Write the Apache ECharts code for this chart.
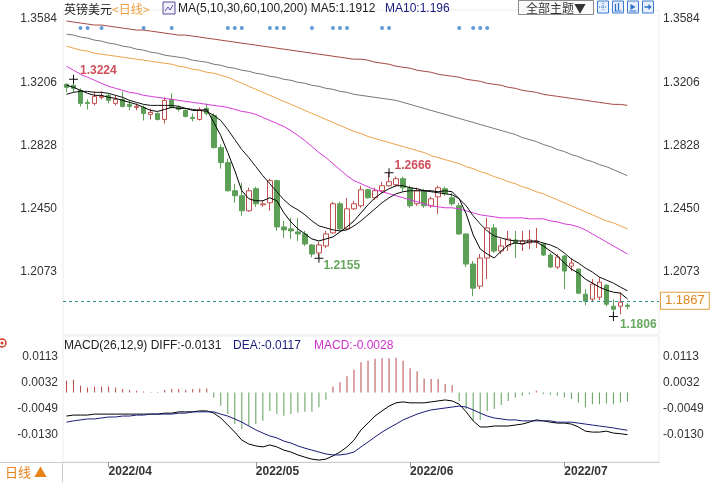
<!DOCTYPE html>
<html><head><meta charset="utf-8">
<script src="https://cdn.jsdelivr.net/npm/echarts@6/dist/echarts.min.js"></script>
<style>html,body{margin:0;padding:0;background:#fff}#c{width:711px;height:482px}</style>
</head><body><div id="c"></div>
<script>
// ---------- data ----------
const tradingDays = 81, futureSlots = 4;
const categories = (function () {
  const out = []; const d = new Date(Date.UTC(2022, 2, 24));
  while (out.length < tradingDays + futureSlots) {
    const w = d.getUTCDay();
    if (w !== 0 && w !== 6) out.push(d.getUTCFullYear() + '/' + String(d.getUTCMonth() + 1).padStart(2, '0') + '/' + String(d.getUTCDate()).padStart(2, '0'));
    d.setUTCDate(d.getUTCDate() + 1);
  }
  return out;
})();
const opens = [1.3194,1.3188,1.3158,1.3086,1.3080,1.3116,1.3128,1.3080,1.3104,1.3074,
1.3056,1.3056,1.3014,1.3020,1.2984,1.3104,1.3056,1.3038,1.2996,1.2984,
1.3050,1.3008,1.2816,1.2726,1.2558,1.2528,1.2438,1.2570,1.2474,1.2486,
1.2618,1.2342,1.2330,1.2312,1.2300,1.2234,1.2186,1.2228,1.2306,1.2480,
1.2330,1.2450,1.2468,1.2564,1.2516,1.2558,1.2588,1.2594,1.2630,1.2576,
1.2480,1.2558,1.2468,1.2522,1.2570,1.2516,1.2468,1.2300,1.2120,1.1988,
1.2156,1.2336,1.2198,1.2228,1.2264,1.2240,1.2246,1.2252,1.2240,1.2174,
1.2102,1.2168,1.2108,1.2090,1.1940,1.1910,1.1922,1.1994,1.1868,1.1868,
1.1874];
const closes = [1.3176,1.3170,1.3080,1.3080,1.3122,1.3122,1.3098,1.3104,1.3062,1.3062,
1.3062,1.3020,1.3026,1.2984,1.3098,1.3056,1.3044,1.3002,1.2990,1.3044,
1.3020,1.2816,1.2726,1.2558,1.2528,1.2438,1.2558,1.2480,1.2480,1.2618,
1.2342,1.2324,1.2318,1.2300,1.2240,1.2180,1.2234,1.2300,1.2480,1.2330,
1.2450,1.2480,1.2564,1.2516,1.2558,1.2588,1.2612,1.2630,1.2576,1.2468,
1.2558,1.2468,1.2510,1.2576,1.2540,1.2480,1.2300,1.2120,1.1976,1.2156,
1.2336,1.2198,1.2228,1.2270,1.2246,1.2258,1.2264,1.2258,1.2174,1.2102,
1.2162,1.2078,1.2126,1.1946,1.1898,1.2000,1.2012,1.1880,1.1850,1.1892,
1.1867];
const lows = [1.3146,1.3146,1.3062,1.3044,1.3068,1.3104,1.3080,1.3068,1.3056,1.3038,
1.3038,1.2978,1.2984,1.2978,1.2960,1.3050,1.3032,1.2996,1.2972,1.2978,
1.3008,1.2810,1.2690,1.2552,1.2486,1.2408,1.2432,1.2462,1.2462,1.2438,
1.2318,1.2276,1.2270,1.2258,1.2228,1.2160,1.2155,1.2216,1.2300,1.2318,
1.2324,1.2444,1.2456,1.2510,1.2504,1.2546,1.2582,1.2582,1.2552,1.2456,
1.2468,1.2456,1.2456,1.2420,1.2528,1.2468,1.2294,1.2102,1.1928,1.1970,
1.2030,1.2186,1.2180,1.2198,1.2156,1.2198,1.2210,1.2216,1.2168,1.2096,
1.2090,1.1970,1.2078,1.1940,1.1874,1.1898,1.1904,1.1868,1.1806,1.1820,
1.1850];
const highs = [1.3200,1.3224,1.3170,1.3104,1.3152,1.3152,1.3140,1.3128,1.3152,1.3098,
1.3080,1.3068,1.3050,1.3026,1.3116,1.3140,1.3068,1.3050,1.3020,1.3056,
1.3080,1.3020,1.2834,1.2750,1.2600,1.2606,1.2576,1.2582,1.2498,1.2630,
1.2624,1.2378,1.2396,1.2396,1.2318,1.2240,1.2252,1.2318,1.2492,1.2492,
1.2516,1.2498,1.2588,1.2570,1.2576,1.2612,1.2666,1.2642,1.2642,1.2588,
1.2576,1.2570,1.2522,1.2588,1.2582,1.2546,1.2486,1.2300,1.2138,1.2180,
1.2396,1.2360,1.2270,1.2318,1.2318,1.2318,1.2324,1.2336,1.2246,1.2186,
1.2180,1.2174,1.2156,1.2090,1.1970,1.2030,1.2042,1.2000,1.1910,1.1952,
1.1886];
const ma5 = [1.3188,1.3176,1.3158,1.3140,1.3128,1.3128,1.3116,1.3110,1.3098,1.3086,
1.3074,1.3056,1.3038,1.3032,1.3044,1.3056,1.3050,1.3050,1.3038,1.3038,
1.3044,1.2966,1.2888,1.2786,1.2678,1.2558,1.2510,1.2498,1.2498,1.2516,
1.2498,1.2426,1.2372,1.2330,1.2300,1.2270,1.2258,1.2270,1.2282,1.2312,
1.2342,1.2378,1.2426,1.2474,1.2516,1.2546,1.2570,1.2588,1.2588,1.2576,
1.2570,1.2558,1.2558,1.2552,1.2558,1.2552,1.2510,1.2420,1.2294,1.2210,
1.2180,1.2156,1.2198,1.2234,1.2246,1.2240,1.2252,1.2252,1.2228,1.2198,
1.2168,1.2126,1.2090,1.2066,1.2030,1.2006,1.1982,1.1964,1.1952,1.1946,
1.1912];
const ma10 = [1.3134,1.3146,1.3152,1.3152,1.3146,1.3146,1.3140,1.3128,1.3116,1.3098,
1.3086,1.3074,1.3068,1.3068,1.3068,1.3068,1.3062,1.3050,1.3044,1.3038,
1.3032,1.3008,1.2978,1.2924,1.2864,1.2804,1.2756,1.2702,1.2648,1.2600,
1.2552,1.2504,1.2468,1.2444,1.2414,1.2378,1.2348,1.2336,1.2324,1.2318,
1.2324,1.2348,1.2378,1.2414,1.2450,1.2486,1.2516,1.2540,1.2552,1.2558,
1.2558,1.2558,1.2552,1.2546,1.2540,1.2534,1.2510,1.2468,1.2408,1.2360,
1.2318,1.2288,1.2276,1.2264,1.2258,1.2258,1.2258,1.2258,1.2246,1.2234,
1.2216,1.2186,1.2150,1.2126,1.2096,1.2072,1.2042,1.2024,1.2006,1.1982,
1.1960];
const ma30 = [1.3302,1.3278,1.3254,1.3236,1.3218,1.3200,1.3182,1.3170,1.3158,1.3146,
1.3140,1.3128,1.3122,1.3116,1.3110,1.3104,1.3098,1.3092,1.3086,1.3080,
1.3074,1.3068,1.3062,1.3056,1.3044,1.3032,1.3026,1.3014,1.2996,1.2978,
1.2960,1.2942,1.2918,1.2888,1.2858,1.2822,1.2786,1.2756,1.2720,1.2684,
1.2648,1.2618,1.2600,1.2582,1.2564,1.2552,1.2540,1.2528,1.2516,1.2504,
1.2492,1.2480,1.2468,1.2462,1.2456,1.2456,1.2450,1.2438,1.2426,1.2414,
1.2408,1.2402,1.2396,1.2396,1.2396,1.2396,1.2390,1.2390,1.2390,1.2378,
1.2372,1.2360,1.2354,1.2342,1.2324,1.2300,1.2276,1.2252,1.2228,1.2204,
1.2180];
const ma60 = [1.3422,1.3410,1.3398,1.3392,1.3380,1.3374,1.3368,1.3362,1.3356,1.3350,
1.3344,1.3338,1.3332,1.3326,1.3320,1.3314,1.3302,1.3296,1.3284,1.3278,
1.3266,1.3260,1.3248,1.3236,1.3218,1.3200,1.3182,1.3164,1.3146,1.3128,
1.3110,1.3092,1.3074,1.3056,1.3038,1.3020,1.3002,1.2984,1.2966,1.2948,
1.2930,1.2912,1.2900,1.2882,1.2870,1.2858,1.2846,1.2834,1.2822,1.2810,
1.2798,1.2786,1.2768,1.2756,1.2744,1.2732,1.2720,1.2702,1.2690,1.2672,
1.2660,1.2642,1.2630,1.2612,1.2600,1.2582,1.2570,1.2552,1.2540,1.2522,
1.2504,1.2486,1.2468,1.2450,1.2432,1.2414,1.2396,1.2378,1.2366,1.2348,
1.2330];
const ma100 = [1.3494,1.3488,1.3476,1.3470,1.3458,1.3452,1.3440,1.3434,1.3422,1.3416,
1.3404,1.3398,1.3386,1.3380,1.3368,1.3362,1.3356,1.3350,1.3338,1.3332,
1.3326,1.3314,1.3308,1.3296,1.3290,1.3278,1.3272,1.3260,1.3254,1.3242,
1.3236,1.3224,1.3218,1.3206,1.3200,1.3188,1.3182,1.3170,1.3164,1.3152,
1.3146,1.3134,1.3128,1.3122,1.3116,1.3110,1.3104,1.3098,1.3086,1.3074,
1.3062,1.3050,1.3038,1.3026,1.3014,1.3002,1.2990,1.2978,1.2966,1.2954,
1.2942,1.2930,1.2918,1.2906,1.2894,1.2876,1.2864,1.2852,1.2834,1.2822,
1.2804,1.2792,1.2774,1.2762,1.2744,1.2732,1.2714,1.2702,1.2684,1.2666,
1.2648];
const ma200 = [1.3572,1.3566,1.3560,1.3554,1.3548,1.3548,1.3542,1.3536,1.3530,1.3524,
1.3518,1.3518,1.3512,1.3506,1.3500,1.3494,1.3488,1.3488,1.3482,1.3476,
1.3470,1.3464,1.3458,1.3452,1.3446,1.3440,1.3434,1.3428,1.3422,1.3416,
1.3410,1.3404,1.3398,1.3392,1.3386,1.3380,1.3374,1.3368,1.3362,1.3356,
1.3350,1.3344,1.3344,1.3338,1.3326,1.3320,1.3314,1.3302,1.3296,1.3290,
1.3278,1.3272,1.3266,1.3254,1.3248,1.3242,1.3236,1.3224,1.3218,1.3212,
1.3200,1.3194,1.3188,1.3176,1.3170,1.3158,1.3152,1.3146,1.3134,1.3128,
1.3122,1.3116,1.3110,1.3104,1.3098,1.3092,1.3086,1.3080,1.3074,1.3074,
1.3068];
const diff = [-0.0073,-0.0070,-0.0070,-0.0070,-0.0067,-0.0067,-0.0067,-0.0067,-0.0067,-0.0067,
-0.0067,-0.0067,-0.0067,-0.0067,-0.0064,-0.0064,-0.0060,-0.0060,-0.0060,-0.0057,
-0.0057,-0.0064,-0.0079,-0.0101,-0.0123,-0.0148,-0.0160,-0.0166,-0.0169,-0.0163,
-0.0169,-0.0179,-0.0185,-0.0194,-0.0201,-0.0207,-0.0210,-0.0207,-0.0197,-0.0185,
-0.0169,-0.0148,-0.0116,-0.0095,-0.0073,-0.0057,-0.0042,-0.0032,-0.0029,-0.0032,
-0.0032,-0.0032,-0.0029,-0.0026,-0.0023,-0.0026,-0.0036,-0.0060,-0.0088,-0.0107,
-0.0107,-0.0104,-0.0104,-0.0104,-0.0101,-0.0098,-0.0092,-0.0085,-0.0088,-0.0092,
-0.0095,-0.0095,-0.0098,-0.0107,-0.0120,-0.0123,-0.0123,-0.0120,-0.0126,-0.0128,
-0.0131];
const dea = [-0.0092,-0.0088,-0.0085,-0.0082,-0.0082,-0.0079,-0.0076,-0.0076,-0.0073,-0.0073,
-0.0070,-0.0070,-0.0067,-0.0067,-0.0067,-0.0067,-0.0064,-0.0064,-0.0060,-0.0060,
-0.0060,-0.0060,-0.0067,-0.0073,-0.0082,-0.0092,-0.0104,-0.0116,-0.0126,-0.0135,
-0.0141,-0.0151,-0.0157,-0.0166,-0.0173,-0.0179,-0.0185,-0.0191,-0.0194,-0.0194,
-0.0191,-0.0185,-0.0169,-0.0154,-0.0138,-0.0123,-0.0110,-0.0098,-0.0085,-0.0076,
-0.0067,-0.0060,-0.0054,-0.0051,-0.0048,-0.0045,-0.0042,-0.0045,-0.0054,-0.0064,
-0.0073,-0.0079,-0.0082,-0.0085,-0.0085,-0.0088,-0.0088,-0.0088,-0.0088,-0.0088,
-0.0092,-0.0092,-0.0092,-0.0095,-0.0098,-0.0101,-0.0104,-0.0107,-0.0110,-0.0114,
-0.0117];
const macd = [0.0037,0.0040,0.0021,0.0016,0.0019,0.0019,0.0019,0.0016,0.0011,0.0009,
0.0006,0.0003,0.0002,0.0002,0.0008,0.0011,0.0011,0.0009,0.0011,0.0013,
0.0013,-0.0015,-0.0041,-0.0067,-0.0098,-0.0114,-0.0104,-0.0098,-0.0088,-0.0057,
-0.0067,-0.0072,-0.0067,-0.0062,-0.0060,-0.0060,-0.0046,-0.0022,0.0019,0.0032,
0.0051,0.0071,0.0094,0.0099,0.0105,0.0107,0.0107,0.0108,0.0099,0.0076,
0.0066,0.0044,0.0042,0.0042,0.0027,0.0023,-0.0026,-0.0051,-0.0088,-0.0085,
-0.0057,-0.0051,-0.0039,-0.0026,-0.0015,-0.0010,-0.0005,0.0006,-0.0005,-0.0007,
-0.0010,-0.0015,-0.0020,-0.0031,-0.0046,-0.0036,-0.0036,-0.0034,-0.0036,-0.0031,
-0.0028];
const priceTicks = [1.2073, 1.2450, 1.2828, 1.3206, 1.3584];
const macdTicks = [-0.0130, -0.0049, 0.0032, 0.0113];
const eventIdx = [2,3,5,11,15,23,24,25,29,30,31,35,38,39,40,45,46,56,58,59,60];
const extremes = [{i:1,k:'high'},{i:46,k:'high'},{i:36,k:'low'},{i:78,k:'low'}];

// ---------- styling / layout ----------
const F = "'Liberation Sans', Arial, 'Noto Sans CJK SC', sans-serif";
const FC = "'Noto Sans CJK SC', 'Liberation Sans', sans-serif";
const UP = '#c0504d', DOWN = '#5e9f58';
const lastClose = closes[closes.length - 1];
const isMonthStart = (idx) => idx > 0 && idx < tradingDays && categories[idx].slice(0, 7) !== categories[idx - 1].slice(0, 7);

const candleData = opens.map((o, i) => [o, closes[i], lows[i], highs[i]]);
const extremeLabel = {
  1: {offset: [-3, -9], color: '#cf4f5c'},
  46: {offset: [-4, -7], color: '#cf4f5c'},
  36: {offset: [-5, 8], color: '#68a760'},
  78: {offset: [-3, 8], color: '#68a760'}
};
const markPts = extremes.map(e => {
  const v = e.k === 'high' ? highs[e.i] : lows[e.i];
  const s = extremeLabel[e.i];
  return {coord: [categories[e.i], v], value: v,
    label: {show: true, position: 'right', distance: 5, offset: s.offset, color: s.color,
      fontWeight: 'bold', fontSize: 12, fontFamily: F, formatter: p => p.value.toFixed(4)}};
});

function maSeries(name, data, color) {
  return {name, type: 'line', xAxisIndex: 0, yAxisIndex: 0, data, symbol: 'none', smooth: false,
    lineStyle: {color, width: 1}, z: 3, silent: true};
}
const priceAxis = (pos) => ({
  type: 'value', gridIndex: 0, position: pos, min: 1.1696, max: 1.3638,
  axisLine: {show: false}, axisTick: {show: false},
  axisLabel: {customValues: priceTicks, formatter: v => v.toFixed(4), color: '#333', fontSize: 12, fontFamily: F,
    margin: pos === 'left' ? 6 : 4},
  splitLine: {show: false}
});
const macdAxis = (pos) => ({
  type: 'value', gridIndex: 1, position: pos, min: -0.0216, max: 0.0176,
  axisLine: {show: false}, axisTick: {show: false},
  axisLabel: {customValues: macdTicks, formatter: v => v.toFixed(4), color: '#333', fontSize: 12, fontFamily: F,
    margin: pos === 'left' ? 5 : 4},
  splitLine: {show: false}
});

const iconBox = (x, children) => ({type: 'group', x: x, y: 1, children: [
  {type: 'rect', shape: {x: 0, y: 0, width: 11, height: 12}, style: {fill: '#e6effb', stroke: '#3d7bd0', lineWidth: 1}}
].concat(children)});
const blue = '#2f6fc8';

const chart = echarts.init(document.getElementById('c'), null, {renderer: 'canvas'});
chart.setOption({
  animation: false,
  backgroundColor: '#fff',
  grid: [
    {left: 63, right: 52, top: 10, bottom: 147, show: true, borderColor: '#ececec', borderWidth: 1},
    {left: 63, right: 52, top: 336, bottom: 20, show: true, borderColor: '#ececec', borderWidth: 1}
  ],
  xAxis: [
    {type: 'category', gridIndex: 0, data: categories, boundaryGap: true,
      axisLine: {show: false}, axisTick: {show: false}, axisLabel: {show: false}, splitLine: {show: false}},
    {type: 'category', gridIndex: 1, data: categories, boundaryGap: true,
      axisLine: {show: true, onZero: false, lineStyle: {color: '#cccccc'}},
      axisTick: {show: true, alignWithLabel: true, length: 5, interval: (i) => isMonthStart(i), lineStyle: {color: '#999'}},
      axisLabel: {show: true, interval: (i) => isMonthStart(i), formatter: v => v.slice(0, 7), align: 'left',
        margin: 4, color: '#333', fontWeight: 'bold', fontSize: 12, fontFamily: F}}
  ],
  yAxis: [
    priceAxis('left'),
    priceAxis('right'),
    {type: 'value', gridIndex: 0, min: 0, max: 1, show: false},
    macdAxis('left'),
    macdAxis('right')
  ],
  series: [
    {name: 'K', type: 'candlestick', xAxisIndex: 0, yAxisIndex: 0, data: candleData, barWidth: 5,
      itemStyle: {color: '#ffffff', color0: DOWN, borderColor: UP, borderColor0: DOWN, borderColorDoji: UP, borderWidth: 1},
      markPoint: {symbol: 'path://M0,4h9v1h-9zM4,0h1v9h-1z', symbolSize: 9, itemStyle: {color: '#111'},
        data: markPts, silent: true},
      markLine: {symbol: 'none', silent: true, data: [{yAxis: lastClose}],
        lineStyle: {type: [3, 3], color: '#2f9191', width: 1},
        label: {show: true, position: 'end', distance: 2, formatter: () => lastClose.toFixed(4),
          color: '#e0861c', borderColor: '#e0a040', borderWidth: 1, backgroundColor: '#fff',
          padding: [2, 4, 1, 4], fontSize: 13, fontFamily: F}}},
    maSeries('MA200', ma200, '#a64842'),
    maSeries('MA100', ma100, '#777777'),
    maSeries('MA60', ma60, '#f0a24a'),
    maSeries('MA30', ma30, '#d63bd6'),
    maSeries('MA10', ma10, '#111111'),
    maSeries('MA5', ma5, '#000000'),
    {name: 'events', type: 'scatter', xAxisIndex: 0, yAxisIndex: 2, symbolSize: 4, silent: true,
      itemStyle: {color: '#3a7fd0'}, data: eventIdx.map(i => [categories[i], 0.945])},
    {name: 'MACD', type: 'bar', xAxisIndex: 1, yAxisIndex: 3, data: macd, barWidth: 1, silent: true,
      itemStyle: {color: p => p.value >= 0 ? '#b94a48' : '#5e9f58'}},
    {name: 'DIFF', type: 'line', xAxisIndex: 1, yAxisIndex: 3, data: diff, symbol: 'none', silent: true,
      lineStyle: {color: '#000', width: 1}},
    {name: 'DEA', type: 'line', xAxisIndex: 1, yAxisIndex: 3, data: dea, symbol: 'none', silent: true,
      lineStyle: {color: '#1a1a7a', width: 1}}
  ],
  graphic: [
    {type: 'text', x: 64, y: 9, style: {text: '英镑美元', font: '12px ' + FC, fill: '#222', verticalAlign: 'middle'}},
    {type: 'text', x: 112, y: 9, style: {text: '<日线>', font: '12px ' + FC, fill: '#f0a040', verticalAlign: 'middle'}},
    {type: 'group', x: 163, y: 2, children: [
      {type: 'rect', shape: {x: 0, y: 0, width: 12, height: 12}, style: {fill: '#f3f0fb', stroke: '#5b4f9a', lineWidth: 1}},
      {type: 'polyline', shape: {points: [[2, 9], [5, 5], [7, 8], [10, 3]]}, style: {stroke: '#5b4f9a', lineWidth: 1, fill: null}}
    ]},
    {type: 'text', x: 178, y: 9, style: {text: 'MA(5,10,30,60,100,200) MA5:' + ma5[ma5.length - 1].toFixed(4), font: '12px ' + F, fill: '#222', verticalAlign: 'middle'}},
    {type: 'text', x: 385, y: 9, style: {text: 'MA10:' + parseFloat(ma10[ma10.length - 1].toFixed(4)), font: '12px ' + F, fill: '#1a1a80', verticalAlign: 'middle'}},
    {type: 'rect', shape: {x: 518.5, y: 0.5, width: 75, height: 14}, style: {fill: '#fafafa', stroke: '#8a8a8a', lineWidth: 1}},
    {type: 'text', x: 556, y: 8, style: {text: '全部主题▼', font: '12px ' + FC, fill: '#333', align: 'center', verticalAlign: 'middle'}},
    iconBox(597.5, [
      {type: 'line', shape: {x1: 5.5, y1: 2, x2: 5.5, y2: 10}, style: {stroke: blue, lineWidth: 1, lineDash: [1, 1]}},
      {type: 'line', shape: {x1: 1.5, y1: 6, x2: 9.5, y2: 6}, style: {stroke: blue, lineWidth: 1, lineDash: [1, 1]}}
    ]),
    iconBox(612.5, [
      {type: 'line', shape: {x1: 3, y1: 3, x2: 3, y2: 10}, style: {stroke: blue, lineWidth: 1.2}},
      {type: 'line', shape: {x1: 6, y1: 2, x2: 6, y2: 9}, style: {stroke: blue, lineWidth: 1.2}},
      {type: 'line', shape: {x1: 2, y1: 10, x2: 9, y2: 10}, style: {stroke: blue, lineWidth: 1}}
    ]),
    iconBox(627.5, [
      {type: 'polygon', shape: {points: [[3, 3], [8, 6], [3, 9]]}, style: {fill: blue}},
      {type: 'line', shape: {x1: 2, y1: 10, x2: 9, y2: 10}, style: {stroke: blue, lineWidth: 1}}
    ]),
    iconBox(642.5, [
      {type: 'line', shape: {x1: 2, y1: 6, x2: 8, y2: 6}, style: {stroke: blue, lineWidth: 1.5}},
      {type: 'polygon', shape: {points: [[6, 3], [9, 6], [6, 9]]}, style: {fill: blue}}
    ]),
    {type: 'group', x: 2, y: 343, children: [
      {type: 'circle', shape: {cx: 0, cy: 0, r: 4}, style: {fill: '#fff', stroke: '#d23a2a', lineWidth: 1.5}},
      {type: 'circle', shape: {cx: 0, cy: 0, r: 1.5}, style: {fill: '#d23a2a'}}
    ]},
    {type: 'text', x: 64, y: 346, style: {text: 'MACD(26,12,9) DIFF:' + diff[diff.length - 1].toFixed(4), font: '12px ' + F, fill: '#222', verticalAlign: 'middle'}},
    {type: 'text', x: 233, y: 346, style: {text: 'DEA:' + dea[dea.length - 1].toFixed(4), font: '12px ' + F, fill: '#1a1a80', verticalAlign: 'middle'}},
    {type: 'text', x: 314, y: 346, style: {text: 'MACD:' + macd[macd.length - 1].toFixed(4), font: '12px ' + F, fill: '#d030d0', verticalAlign: 'middle'}},
    {type: 'line', shape: {x1: 0, y1: 462.5, x2: 63, y2: 462.5}, style: {stroke: '#cccccc', lineWidth: 1}},
    {type: 'line', shape: {x1: 62.5, y1: 462, x2: 62.5, y2: 482}, style: {stroke: '#cccccc', lineWidth: 1}},
    {type: 'text', x: 5, y: 472, style: {text: '日线 ▲', font: '13px ' + FC, fill: '#e8821a', verticalAlign: 'middle'}}
  ]
});
</script>
</body></html>
